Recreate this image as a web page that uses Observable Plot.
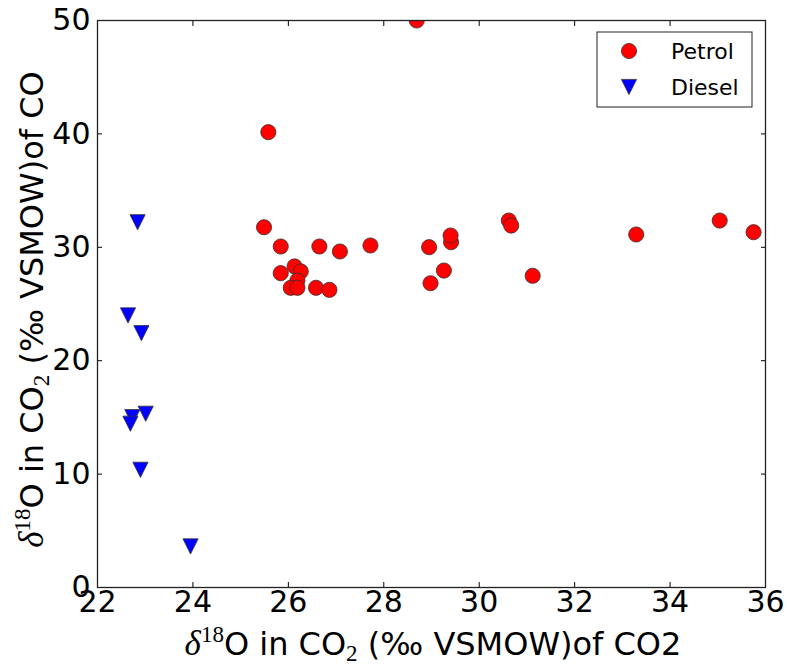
<!DOCTYPE html>
<html>
<head>
<meta charset="utf-8">
<script src="https://cdn.jsdelivr.net/npm/d3@7"></script>
<script src="https://cdn.jsdelivr.net/npm/@observablehq/plot@0.6"></script>
<style>
  html, body { margin: 0; padding: 0; background: #fff; }
  #chart { position: relative; width: 787px; height: 668px; }
</style>
</head>
<body>
<div id="chart"></div>
<script>
// δ18O of CO2 (x) against δ18O of CO (y), ‰ VSMOW
const petrolX = [28.69, 25.58, 25.49, 25.84, 26.65, 27.08, 27.72, 26.13, 26.26, 25.84, 26.19, 26.05, 26.19, 26.58, 26.86,
                 28.95, 29.26, 28.98, 29.41, 29.40, 30.62, 30.67, 31.12, 33.29, 35.04, 35.75];
const petrolY = [50.0, 40.15, 31.77, 30.07, 30.07, 29.63, 30.16, 28.31, 27.87, 27.72, 27.07, 26.43, 26.43, 26.43, 26.25,
                 30.01, 27.95, 26.83, 30.45, 31.04, 32.36, 31.92, 27.49, 31.13, 32.36, 31.33];
const dieselX = [22.84, 22.64, 22.92, 23.01, 22.73, 22.69, 22.90, 23.95];
const dieselY = [32.21, 23.99, 22.43, 15.32, 15.02, 14.44, 10.38, 3.62];

const xTicks = [22, 24, 26, 28, 30, 32, 34, 36];
const yTicks = [0, 10, 20, 30, 40, 50];
const seriesNames = ["Petrol", "Diesel"];

const petrol = petrolX.map((x, i) => ({x, y: petrolY[i]}));
const diesel = dieselX.map((x, i) => ({x, y: dieselY[i]}));

// downward-pointing triangle, as wide as it is tall
const triangleDown = {
  draw(context, size) {
    const h = Math.sqrt(size / Math.PI);
    context.moveTo(-h, -h);
    context.lineTo(h, -h);
    context.lineTo(0, h);
    context.closePath();
  }
};

const R = 7.6;
const edge = "#333";

const plot = Plot.plot({
  width: 787,
  height: 668,
  marginLeft: 97,
  marginRight: 22,
  marginTop: 20,
  marginBottom: 81,
  style: {fontFamily: "'DejaVu Sans', sans-serif", fontSize: "30px", color: "#000", background: "#fff"},
  x: {domain: [22, 36]},
  y: {domain: [0, 50]},
  marks: [
    Plot.axisX(xTicks, {anchor: "bottom", tickSize: -5, tickPadding: 8, label: null, fontSize: 30}),
    Plot.axisX(xTicks, {anchor: "top", tickSize: -5, tickFormat: () => "", label: null}),
    Plot.axisY(yTicks, {anchor: "left", tickSize: -5, tickPadding: 12, label: null, fontSize: 30}),
    Plot.axisY(yTicks, {anchor: "right", tickSize: -5, tickFormat: () => "", label: null}),
    Plot.dot(petrol, {x: "x", y: "y", r: R, fill: "#ff0000", stroke: edge, strokeWidth: 0.8, clip: true}),
    Plot.dot(diesel, {x: "x", y: "y", r: R, symbol: triangleDown, fill: "#0000ff", stroke: edge, strokeWidth: 0.8, clip: true}),
    Plot.frame({stroke: "#222", strokeWidth: 1.3})
  ]
});

document.getElementById("chart").appendChild(plot);

const svg = d3.select(plot);
const serif = "'Liberation Serif', 'DejaVu Serif', serif";

// axis title with δ, superscript 18 and subscript 2
function axisTitle(g, tail) {
  const t = g.append("text")
    .attr("text-anchor", "middle")
    .attr("font-family", "'DejaVu Sans', sans-serif")
    .attr("font-size", 32)
    .attr("fill", "#000");
  t.append("tspan").attr("font-family", serif).attr("font-style", "italic").attr("font-size", 35).text("δ");
  t.append("tspan").attr("font-family", serif).attr("font-size", 23).attr("dy", -13).text("18");
  t.append("tspan").attr("dy", 13).text("O in CO");
  t.append("tspan").attr("font-family", serif).attr("font-size", 23).attr("dy", 6).text("2");
  t.append("tspan").attr("dy", -6).text(" (‰ VSMOW)" + tail);
  return t;
}

const xs = plot.scale("x"), ys = plot.scale("y");
const cx = (xs.apply(22) + xs.apply(36)) / 2;
const cy = (ys.apply(0) + ys.apply(50)) / 2;

axisTitle(svg.append("g").attr("transform", `translate(${cx + 2},655)`), "of CO2");
axisTitle(svg.append("g").attr("transform", `translate(43,${cy + 6}) rotate(-90)`), "of CO");

// legend box in the upper right corner
const lg = svg.append("g").attr("transform", "translate(597,32)");
lg.append("rect").attr("width", 155).attr("height", 75)
  .attr("fill", "#fff").attr("stroke", "#222").attr("stroke-width", 1);
const legendSymbols = [d3.symbolCircle, triangleDown];
const legendFills = ["#ff0000", "#0000ff"];
seriesNames.forEach((name, i) => {
  const yy = 19 + i * 36;
  lg.append("path")
    .attr("d", d3.symbol(legendSymbols[i], Math.PI * R * R)())
    .attr("transform", `translate(32,${yy})`)
    .attr("fill", legendFills[i]).attr("stroke", edge).attr("stroke-width", 0.8);
  lg.append("text").attr("x", 74).attr("y", yy + 8)
    .attr("text-anchor", "start")
    .attr("font-family", "'DejaVu Sans', sans-serif").attr("font-size", 22)
    .attr("fill", "#000").text(name);
});
</script>
</body>
</html>
